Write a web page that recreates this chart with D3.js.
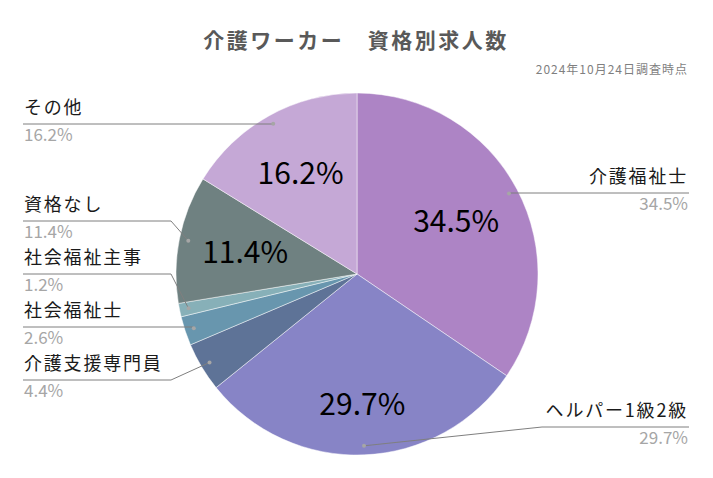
<!DOCTYPE html>
<html>
<head>
<meta charset="utf-8">
<script src="https://cdn.jsdelivr.net/npm/d3@7"></script>
<style>
	body { margin: 0; background: #fff; }
	svg { display: block; font-family: "Noto Sans CJK JP", "Noto Sans", sans-serif; }
</style>
</head>
<body>
<svg id="chart" width="713" height="478"></svg>
<script>
// data
var categories = ["介護福祉士", "ヘルパー1級2級", "介護支援専門員", "社会福祉士", "社会福祉主事", "資格なし", "その他"];
var shares = [34.5, 29.7, 4.4, 2.6, 1.2, 11.4, 16.2];
var colors = ["#ad84c5", "#8784c6", "#5e7397", "#6896ae", "#87b0b8", "#6f8181", "#c5a8d6"];
var title = "介護ワーカー　資格別求人数";
var note = "2024年10月24日調査時点";

// label layout (side, y of the leader line, inside label radius factor, 0 = no inside label)
var label_side = ["right", "right", "left", "left", "left", "left", "left"];
var label_line_y = [193, 427, 380, 327, 274, 221, 124];
var inside_r = [0.62, 0.72, 0, 0, 0, 0.63, 0.64];

var cx = 357, cy = 274, radius = 181;

var svg = d3.select("#chart");

svg.append("text")
	.attr("x", 356)
	.attr("y", 48)
	.attr("text-anchor", "middle")
	.attr("font-size", 21)
	.attr("font-weight", "bold")
	.attr("letter-spacing", 2.5)
	.attr("fill", "#595959")
	.text(title);

svg.append("text")
	.attr("x", 688)
	.attr("y", 74)
	.attr("text-anchor", "end")
	.attr("font-size", 12)
	.attr("letter-spacing", 1)
	.attr("fill", "#7f7f7f")
	.text(note);

var data = categories.map(function(c, i){
	return {name: c, value: shares[i], color: colors[i], i: i};
});

var pie = d3.pie().sort(null).value(function(d){ return d.value; });
var arc = d3.arc().innerRadius(0).outerRadius(radius);
var arcs = pie(data);

var g = svg.append("g").attr("transform", "translate(" + cx + "," + cy + ")");

g.selectAll("path.slice")
	.data(arcs)
	.enter().append("path")
	.attr("class", "slice")
	.attr("d", arc)
	.attr("fill", function(d){ return d.data.color; })
	.attr("stroke", "#ffffff")
	.attr("stroke-opacity", 0.6)
	.attr("stroke-width", 0.8);

// inside labels
g.selectAll("text.inside")
	.data(arcs.filter(function(d){ return inside_r[d.data.i] > 0; }))
	.enter().append("text")
	.attr("class", "inside")
	.attr("transform", function(d){
		var a = (d.startAngle + d.endAngle) / 2;
		var r = radius * inside_r[d.data.i];
		return "translate(" + (Math.sin(a) * r) + "," + (-Math.cos(a) * r) + ")";
	})
	.attr("text-anchor", "middle")
	.attr("dy", "0.36em")
	.attr("font-size", 30)
	.attr("fill", "#000")
	.text(function(d){ return d.data.value.toFixed(1) + "%"; });

// leader lines and outside labels
var leader = svg.append("g");
arcs.forEach(function(d){
	var i = d.data.i;
	var a = (d.startAngle + d.endAngle) / 2;
	var dot = {
		x: cx + Math.sin(a) * radius * 0.95,
		y: cy - Math.cos(a) * radius * 0.95
	};
	var ly = label_line_y[i];
	var pts;
	if(label_side[i] === "left"){
		var elbow = Math.abs(dot.y - ly) < 4 ? dot.x : 171;
		pts = [[23, ly], [elbow, ly], [dot.x, dot.y]];
	}
	else {
		var elbow_r = Math.abs(dot.y - ly) < 4 ? dot.x : 542;
		pts = [[689, ly], [elbow_r, ly], [dot.x, dot.y]];
	}
	leader.append("path")
		.attr("d", d3.line()(pts))
		.attr("fill", "none")
		.attr("stroke", "#7f7f7f")
		.attr("stroke-width", 1);
	leader.append("circle")
		.attr("cx", dot.x)
		.attr("cy", dot.y)
		.attr("r", 2)
		.attr("fill", "#a6a6a6");

	var tx = label_side[i] === "left" ? 24 : 688;
	var anchor = label_side[i] === "left" ? "start" : "end";
	leader.append("text")
		.attr("x", tx)
		.attr("y", ly - 10)
		.attr("text-anchor", anchor)
		.attr("font-size", 18)
		.attr("letter-spacing", 1.8)
		.attr("fill", "#1a1a1a")
		.text(d.data.name);
	leader.append("text")
		.attr("x", tx)
		.attr("y", ly + 17)
		.attr("text-anchor", anchor)
		.attr("font-size", 17)
		.attr("fill", "#a6a6a6")
		.text(d.data.value.toFixed(1) + "%");
});
</script>
</body>
</html>
